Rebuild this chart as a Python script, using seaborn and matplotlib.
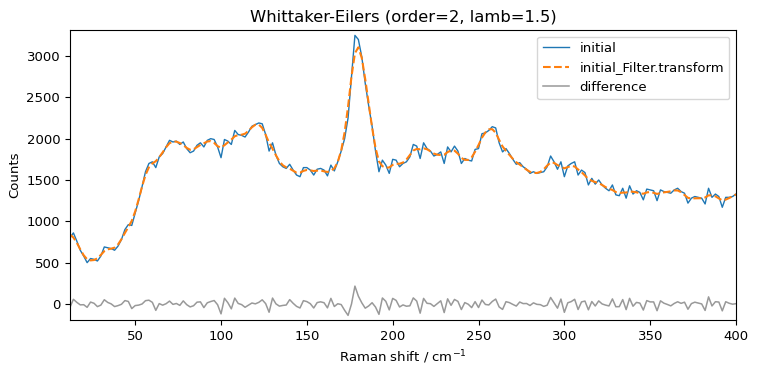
import numpy as np
import pandas as pd
import seaborn as sns
import matplotlib
matplotlib.use("Agg")
import matplotlib.pyplot as plt

# spectrum sampled every 2 cm-1 from 12 to 400
shift_start, shift_stop, shift_step = 12, 400, 2
raman_shift = np.arange(shift_start, shift_stop + 1, shift_step)

initial = [
    800, 860, 760, 650, 580, 500, 550, 540, 520, 580,        # 12-30
    690, 680, 670, 650, 700, 780, 900, 960, 950, 1100,       # 32-50
    1250, 1420, 1600, 1700, 1720, 1650, 1780, 1820, 1900, 1980,  # 52-70
    1960, 1970, 1930, 1960, 1880, 1830, 1850, 1920, 1950, 1900,  # 72-90
    1980, 2000, 1990, 1900, 1770, 1990, 1970, 1930, 2100, 2050,  # 92-110
    2040, 2020, 2080, 2150, 2170, 2190, 2180, 2050, 1850, 1950,  # 112-130
    1800, 1700, 1660, 1640, 1690, 1620, 1560, 1540, 1650, 1650,  # 132-150
    1620, 1560, 1630, 1640, 1620, 1550, 1680, 1610, 1720, 1850,  # 152-170
    2000, 2250, 2750, 3250, 3200, 2990, 2670, 2400, 2150, 1850,  # 172-190
    1600, 1740, 1680, 1580, 1750, 1740, 1660, 1700, 1720, 1780,  # 192-210
    1930, 1910, 1760, 1950, 1880, 1850, 1790, 1810, 1840, 1700,  # 212-230
    1900, 1840, 1910, 1850, 1700, 1760, 1740, 1730, 1870, 1880,  # 232-250
    2060, 2070, 2100, 2145, 2130, 1950, 1840, 1880, 1820, 1750,  # 252-270
    1690, 1710, 1660, 1630, 1580, 1600, 1580, 1590, 1600, 1660,  # 272-290
    1790, 1720, 1630, 1720, 1540, 1670, 1700, 1720, 1560, 1620,  # 292-310
    1590, 1440, 1520, 1450, 1500, 1440, 1400, 1370, 1440, 1320,  # 312-330
    1310, 1400, 1280, 1430, 1330, 1370, 1350, 1260, 1390, 1380,  # 332-350
    1370, 1250, 1380, 1360, 1350, 1340, 1380, 1400, 1360, 1340,  # 352-370
    1220, 1280, 1300, 1290, 1280, 1210, 1400, 1290, 1330, 1300,  # 372-390
    1170, 1290, 1290, 1300, 1330,                                # 392-400
]

order = 2
lamb = 1.5


def whittaker(y, lamb, d):
    y = np.asarray(y, dtype=float)
    n = len(y)
    D = np.diff(np.eye(n), n=d, axis=0)
    return np.linalg.solve(np.eye(n) + lamb * D.T @ D, y)


smoothed = whittaker(initial, lamb, order)
difference = np.asarray(initial) - smoothed

df = pd.DataFrame({"shift": raman_shift, "initial": initial,
                   "smoothed": smoothed, "difference": difference})

plt.rcParams["font.size"] = 9.5

fig = plt.figure(figsize=(7.58, 3.74), dpi=100)
ax = fig.add_axes([0.0923, 0.1444, 0.8787, 0.7754])

sns.lineplot(data=df, x="shift", y="initial", ax=ax, color="#1f77b4",
             linewidth=1.0, label="initial")
sns.lineplot(data=df, x="shift", y="smoothed", ax=ax, color="#ff7f0e",
             linewidth=1.5, linestyle="--", label="initial_Filter.transform")
sns.lineplot(data=df, x="shift", y="difference", ax=ax, color="#999999",
             linewidth=1.1, label="difference")

ax.set_xlim(shift_start, shift_stop)
ax.set_ylim(-194, 3315)
ax.set_xlabel("Raman shift / cm$^{-1}$")
ax.set_ylabel("Counts")
ax.set_title("Whittaker-Eilers (order=2, lamb=1.5)", fontsize=11.8)
ax.legend(loc="upper right")

fig.savefig("out.png", dpi=100)
